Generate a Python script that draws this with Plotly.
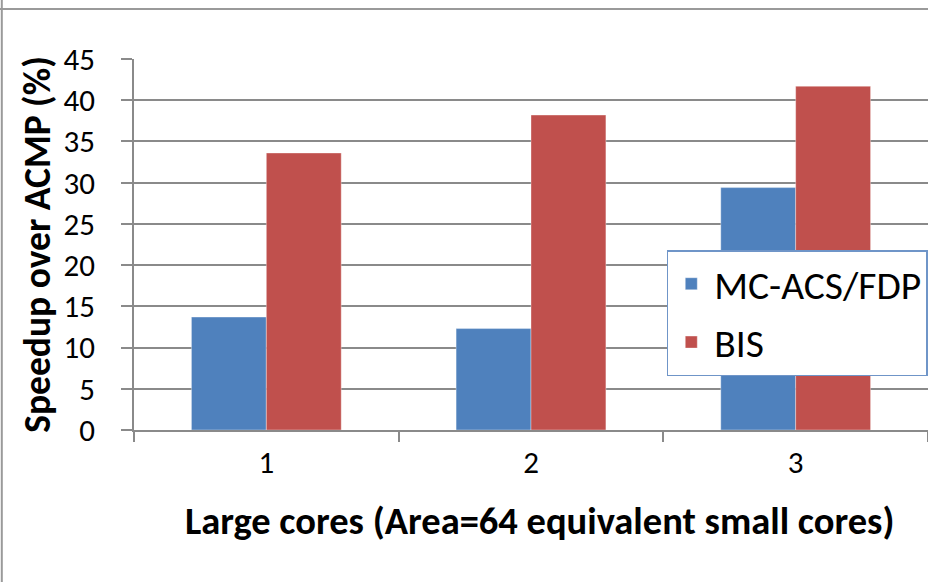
import plotly.graph_objects as go

# Large-core configurations on the x axis
categories = ["1", "2", "3"]

# Speedup over ACMP (%) for each technique
mc_acs_fdp = [13.7, 12.3, 29.4]
bis = [33.6, 38.2, 41.7]

series_names = ["MC-ACS/FDP", "BIS"]
series_colors = ["#4F81BD", "#C0504D"]

FONT = "Calibri, Carlito, Lato, sans-serif"
GRID = "#8a8a8a"

fig = go.Figure()
for i, (name, vals, color) in enumerate(zip(series_names, [mc_acs_fdp, bis], series_colors)):
    fig.add_trace(go.Bar(
        x=categories, y=vals, name=name, legendgroup=f"g{i}",
        marker=dict(color=color, line=dict(color="rgba(255,255,255,0.6)", width=0.6)),
    ))

fig.update_layout(
    width=928, height=582,
    margin=dict(l=134, r=0, t=59, b=152),
    paper_bgcolor="white", plot_bgcolor="white",
    font=dict(family=FONT, color="black"),
    barmode="group", bargap=0.434, bargroupgap=0,
    legend=dict(
        x=0.671, y=0.485, xanchor="left", yanchor="top",
        bgcolor="white", bordercolor="#6f95c8", borderwidth=1.5,
        font=dict(size=39.5, family=FONT), tracegroupgap=4,
        traceorder="grouped", itemwidth=36,
    ),
    xaxis=dict(
        type="category", range=[-0.5, 2.5],
        showline=True, linecolor=GRID, linewidth=1.5,
        ticks="outside", tickson="boundaries", ticklen=10, tickcolor=GRID, tickwidth=1.5,
        tickfont=dict(size=31), ticklabelstandoff=4,
        title=dict(text="<b>\u00a0\u00a0Large cores (Area=64 equivalent small cores)</b>",
                   font=dict(size=38.5), standoff=27),
        showgrid=False,
    ),
    yaxis=dict(
        range=[0, 45], dtick=5, tick0=0,
        showline=True, linecolor=GRID, linewidth=1.5,
        ticks="outside", ticklen=11, tickcolor=GRID, tickwidth=1.5,
        showgrid=True, gridcolor=GRID, gridwidth=1.5, zeroline=False,
        tickfont=dict(size=31), ticklabelstandoff=20,
        title=dict(text="<b>Speedup over ACMP (%)</b>", font=dict(size=37.5), standoff=1),
    ),
    shapes=[
        # outer chart-area border (top and left edges)
        dict(type="line", xref="paper", yref="paper", x0=-0.2, x1=1.1,
             y0=1.1348, y1=1.1348, line=dict(color="#9a9a9a", width=2)),
        dict(type="line", xref="paper", yref="paper", x0=-0.1665, x1=-0.1665,
             y0=-0.5, y1=1.2, line=dict(color="#9a9a9a", width=2)),
    ],
)

fig.write_html("out.html")
